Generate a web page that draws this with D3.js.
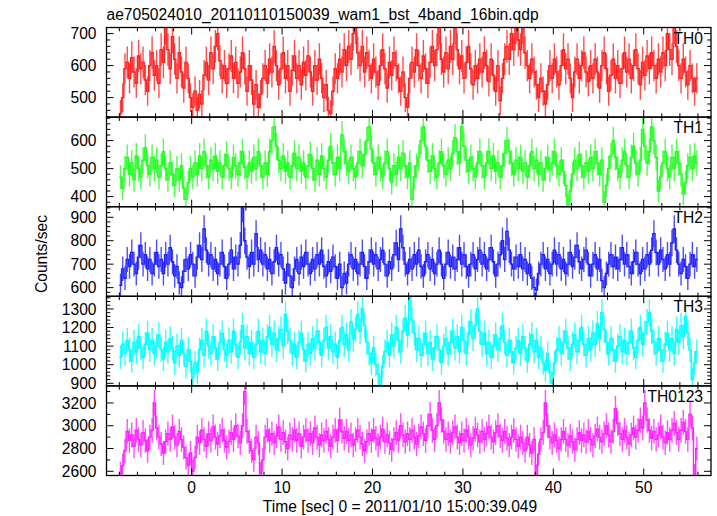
<!DOCTYPE html>
<html><head><meta charset="utf-8">
<script src="https://cdn.jsdelivr.net/npm/d3@7"></script>
<style>
body{margin:0;background:#fff}
svg{display:block}
text{font-family:"Liberation Sans",Arial,Helvetica,sans-serif;fill:#000}
</style>
</head><body><svg id="c" width="717" height="516"></svg>
<script>
// ---------------- data ----------------
const chartTitle = "ae705024010_20110110150039_wam1_bst_4band_16bin.qdp";
const xLabel = "Time [sec] 0 = 2011/01/10 15:00:39.049";
const yLabel = "Counts/sec";
const tStart = -8;          // first bin start (s)
const binSize = 0.25;       // bin width (s)
const bands = ["TH0", "TH1", "TH2", "TH3", "TH0123"];

const TH0 = [
450,500,590,610,560,625,580,545,630,590,610,555,520,600,640,570,
600,545,650,610,720,650,590,690,620,560,640,580,530,610,560,500,
470,520,460,510,480,570,610,555,640,590,660,700,615,560,600,545,
590,630,560,610,545,580,640,590,520,600,555,480,540,470,510,560,
600,545,620,580,660,600,540,590,640,560,600,520,585,630,560,600,
540,610,570,630,580,520,600,555,620,560,500,540,460,450,520,590,
560,620,580,650,600,660,620,700,720,640,600,660,580,640,600,560,
620,580,540,600,650,590,530,610,570,640,600,560,520,580,500,470,
560,610,580,650,600,560,630,590,545,610,660,600,650,720,620,580,
640,590,660,620,720,650,590,630,560,610,660,590,540,600,560,620,
580,640,600,550,620,570,520,600,490,560,620,660,620,700,650,720,
680,650,720,640,600,560,620,580,540,500,560,520,480,540,600,560,
620,580,540,600,650,590,620,560,500,580,620,560,600,640,580,550,
600,560,620,580,530,600,640,590,520,570,620,560,600,545,590,640,
580,620,560,600,650,590,540,610,570,630,590,640,600,560,620,580,
640,600,700,650,620,720,660,600,560,620,580,540,600,560,520,560];

const TH1 = [
470,430,500,540,480,520,460,545,500,470,530,575,510,480,540,500,
530,470,510,560,500,460,520,480,440,500,460,510,430,390,450,500,
470,520,480,545,500,560,510,470,530,500,545,490,520,470,510,550,
500,470,540,510,480,520,560,505,470,520,490,540,500,560,510,470,
520,480,560,600,650,580,530,500,545,490,520,470,510,555,500,540,
490,520,470,510,550,500,460,530,480,545,500,470,530,580,520,480,
540,500,620,560,520,490,540,500,470,520,560,510,550,600,650,570,
520,480,540,500,470,520,560,500,450,510,480,540,500,555,510,470,
520,390,470,510,540,600,650,580,530,490,545,500,470,520,560,510,
480,530,500,555,610,560,520,650,580,530,490,540,500,470,520,560,
510,470,520,560,500,545,490,520,470,510,555,600,560,520,480,530,
500,540,490,520,470,510,560,500,530,480,520,460,500,540,495,520,
560,510,480,530,490,440,370,420,480,530,500,550,510,470,520,490,
540,500,560,520,480,530,380,440,500,545,600,540,500,470,530,560,
510,470,540,580,520,480,530,640,580,520,560,650,600,540,420,470,
520,560,500,470,540,500,560,520,480,410,450,510,540,500,545,520];

const TH2 = [
610,680,640,720,690,750,700,660,730,780,700,740,680,720,660,700,
750,690,720,660,740,700,770,710,650,690,620,600,670,720,680,740,
700,650,730,780,720,850,760,700,740,680,720,660,700,750,690,640,
700,760,680,730,700,780,940,800,730,690,750,700,830,720,760,700,
740,680,720,660,710,770,700,740,680,620,700,650,600,680,720,660,
730,690,750,700,660,720,680,740,700,760,690,650,710,670,730,690,
640,700,600,660,620,700,740,680,720,660,700,750,690,640,710,760,
700,740,680,720,760,700,650,710,680,740,790,720,850,770,700,660,
720,680,740,700,760,690,650,710,740,680,720,660,700,760,700,640,
700,750,690,730,680,720,770,700,740,690,650,700,740,680,720,760,
700,740,680,720,770,710,650,700,740,800,720,840,760,700,680,730,
690,740,680,720,660,700,640,600,590,660,700,740,680,720,660,700,
760,700,740,680,720,660,700,750,690,730,780,710,680,720,760,700,
650,700,740,680,720,630,600,660,700,740,690,730,680,720,770,700,
740,690,660,710,750,700,660,720,680,740,700,760,830,750,700,760,
720,680,740,700,790,850,760,700,660,720,690,640,700,740,690,720];

const TH3 = [
1040,1110,1060,1130,1080,1020,1120,1070,1150,1090,1040,1110,1170,1080,1130,1060,
1100,1160,1080,1030,1120,1070,1140,1090,1010,1100,1050,1130,1060,990,1080,1020,
930,1010,960,1080,1130,1050,1180,1100,1060,1150,1090,1030,1120,1170,1080,1050,
1130,1070,1180,1110,1040,1120,1210,1090,1150,1060,1120,1040,1110,1180,1070,1130,
1060,1150,1200,1110,1170,1080,1140,1190,1100,1270,1180,1130,1060,1110,1040,1120,
1170,1080,1020,1110,1060,1140,1090,1180,1120,1050,1130,1200,1090,1150,1070,1110,
1040,1130,1200,1110,1160,1080,1230,1140,1190,1270,1180,1300,1210,1120,1060,1010,
1090,1000,950,880,990,1070,1120,1050,1160,1100,1200,1130,1070,1180,1250,1160,
1360,1240,1170,1080,1140,1050,1110,1170,1060,1120,1030,1090,1150,1080,1010,1100,
1140,1060,1120,1180,1090,1150,1070,1200,1130,1060,1170,1230,1140,1210,1300,1180,
1110,1170,1060,1120,1040,1100,1160,1080,1140,1210,1120,1050,1130,1070,1010,1090,
1130,1060,1150,1090,1020,1110,1160,1070,1130,1040,1090,1010,970,1060,960,900,
1010,1080,1140,1060,1120,1180,1090,1030,1110,1160,1070,1130,1200,1110,1050,1140,
1080,1170,1110,1220,1140,1280,1190,1120,1060,1140,1080,1020,1100,1150,1070,1130,
1060,1120,1180,1090,1040,1130,1200,1110,1170,1230,1280,1180,1120,1060,1140,1080,
1020,1110,1170,1080,1140,1060,1190,1120,1210,1150,1260,1170,1080,920,1010,1070];

const TH0123 = [
2580,2650,2780,2950,2870,2920,2820,2960,2880,2830,2940,2870,2780,2900,2960,3200,
2980,2900,2840,2760,2860,2930,2880,2990,2900,2830,2950,2880,2810,2720,2650,2760,
2600,2720,2900,2850,2960,2880,2820,2930,2870,2990,2900,2840,2910,2960,2870,2810,
2860,2940,2880,3000,2910,2850,3000,3300,2950,2860,2780,2700,2900,2850,2580,2700,
2900,2960,2870,2930,2850,2910,2990,2880,2940,2860,2800,2920,2880,2960,2870,2930,
2820,2900,2960,2870,2930,2850,2980,2900,2830,2920,2870,2950,2880,2820,2900,2960,
2870,3050,2950,2890,2950,2870,2920,2830,2880,2960,2900,2840,2780,2860,2930,2870,
2960,2890,2830,2900,2970,2860,2920,2850,2790,2880,2940,2870,3000,2920,2860,2930,
2880,2960,2900,2840,2910,2990,2930,2870,3000,3100,2960,2880,3000,3200,3050,2950,
2880,2930,2860,2940,2990,2900,2850,2930,2870,2960,2900,2830,2890,2970,2920,2860,
2950,2880,2930,2990,2900,2860,2940,3000,2910,2870,2950,2890,2830,2900,2960,2880,
2820,2900,2850,2780,2900,2830,2760,2880,2560,2750,2880,2940,3200,3000,2900,2850,
2920,2870,2800,2880,2950,2880,2830,2910,2860,2790,2880,2940,2870,2920,2860,2950,
2880,2830,2910,2970,2900,2860,2930,3000,2920,2860,2950,3150,3020,2930,2880,2960,
2900,2840,2920,2980,2900,2960,3050,2980,3200,3050,2960,2890,2950,2880,2920,2990,
2900,2850,2940,2880,2960,3020,2940,2880,2960,3030,2950,2880,3100,2980,2560,2800];

const seriesValues = [TH0, TH1, TH2, TH3, TH0123];
const yDomains = [[439, 719], [364, 684], [563, 945], [886, 1368], [2563, 3350]];
const yTickValues = [[500, 600, 700], [400, 500, 600], [600, 700, 800, 900],
                     [900, 1000, 1100, 1200, 1300], [2600, 2800, 3000, 3200]];
const yMinorStep = [20, 20, 20, 20, 100];
const xDomain = [-9.42, 57.44];
const xTickValues = [0, 10, 20, 30, 40, 50];
const xMinorStep = 2;

// ---------------- styles / layout ----------------
const colors = ["#ff2020", "#20ff20", "#2020ff", "#00ffff", "#ff20ff"];
const plotLeft = 106.5, plotRight = 711, plotTop = 27.5, plotBottom = 475.5;
const panelH = (plotBottom - plotTop) / bands.length;
const fontSize = 15.6;
const majorLen = 7, minorLen = 3.8;

const svg = d3.select("#c");
const x = d3.scaleLinear().domain(xDomain).range([plotLeft, plotRight]);

svg.append("text").attr("x", plotLeft).attr("y", 19.5)
  .attr("font-size", fontSize).text(chartTitle);

bands.forEach((band, p) => {
  const y0 = plotTop + p * panelH, y1 = y0 + panelH;
  const y = d3.scaleLinear().domain(yDomains[p]).range([y1, y0]);
  const vals = seriesValues[p];
  const data = vals.map((v, i) => {
    const t0 = tStart + i * binSize;
    return { t0, t1: t0 + binSize, tc: t0 + binSize / 2, v, e: Math.sqrt(v * binSize) / binSize };
  });

  const clipId = "clip" + p;
  svg.append("clipPath").attr("id", clipId).append("rect")
    .attr("x", plotLeft).attr("y", y0).attr("width", plotRight - plotLeft).attr("height", panelH);
  const g = svg.append("g").attr("clip-path", `url(#${clipId})`);

  // error bars (Poisson)
  g.selectAll("line.err").data(data).enter().append("line")
    .attr("x1", d => x(d.tc)).attr("x2", d => x(d.tc))
    .attr("y1", d => y(d.v - d.e)).attr("y2", d => y(d.v + d.e))
    .attr("stroke", colors[p]).attr("stroke-width", 1.4).attr("stroke-opacity", 0.8);

  // step line
  const stepPts = data.map(d => [d.t0, d.v]);
  stepPts.push([data[data.length - 1].t1, data[data.length - 1].v]);
  const line = d3.line().x(d => x(d[0])).y(d => y(d[1])).curve(d3.curveStepAfter);
  g.append("path").attr("d", line(stepPts)).attr("fill", "none")
    .attr("stroke", colors[p]).attr("stroke-width", 1.4);

  // ticks
  const tk = svg.append("g").attr("stroke", "#000").attr("stroke-width", 1);
  const [ymin, ymax] = yDomains[p];
  const ys = yMinorStep[p];
  for (let v = Math.ceil(ymin / ys) * ys; v <= ymax; v += ys) {
    const major = yTickValues[p].includes(v);
    const L = major ? majorLen : minorLen;
    const yy = y(v);
    tk.append("line").attr("x1", plotLeft).attr("x2", plotLeft + L).attr("y1", yy).attr("y2", yy);
    tk.append("line").attr("x1", plotRight).attr("x2", plotRight - L).attr("y1", yy).attr("y2", yy);
  }
  for (let t = Math.ceil(xDomain[0] / xMinorStep) * xMinorStep; t <= xDomain[1]; t += xMinorStep) {
    const major = xTickValues.includes(t);
    const L = major ? majorLen : minorLen;
    const xx = x(t);
    tk.append("line").attr("x1", xx).attr("x2", xx).attr("y1", y0).attr("y2", y0 + L);
    tk.append("line").attr("x1", xx).attr("x2", xx).attr("y1", y1).attr("y2", y1 - L);
  }

  // frame
  svg.append("rect").attr("x", plotLeft).attr("y", y0).attr("width", plotRight - plotLeft).attr("height", panelH)
    .attr("fill", "none").attr("stroke", "#000").attr("stroke-width", 1.3);

  // y tick labels
  yTickValues[p].forEach(v => {
    svg.append("text").attr("x", plotLeft - 10).attr("y", y(v)).attr("dy", "0.36em")
      .attr("text-anchor", "end").attr("font-size", fontSize).text(v);
  });

  // band label
  svg.append("text").attr("x", plotRight - 8).attr("y", y0 + 16)
    .attr("text-anchor", "end").attr("font-size", fontSize).text(band);
});

// x tick labels
xTickValues.forEach(t => {
  svg.append("text").attr("x", x(t)).attr("y", 492.5).attr("text-anchor", "middle")
    .attr("font-size", fontSize).text(t);
});
svg.append("text").attr("x", 400).attr("y", 511.5).attr("text-anchor", "middle")
  .attr("font-size", fontSize).text(xLabel);
svg.append("text").attr("transform", "translate(47,254) rotate(-90)")
  .attr("text-anchor", "middle").attr("font-size", fontSize).text(yLabel);
</script>
</body></html>
